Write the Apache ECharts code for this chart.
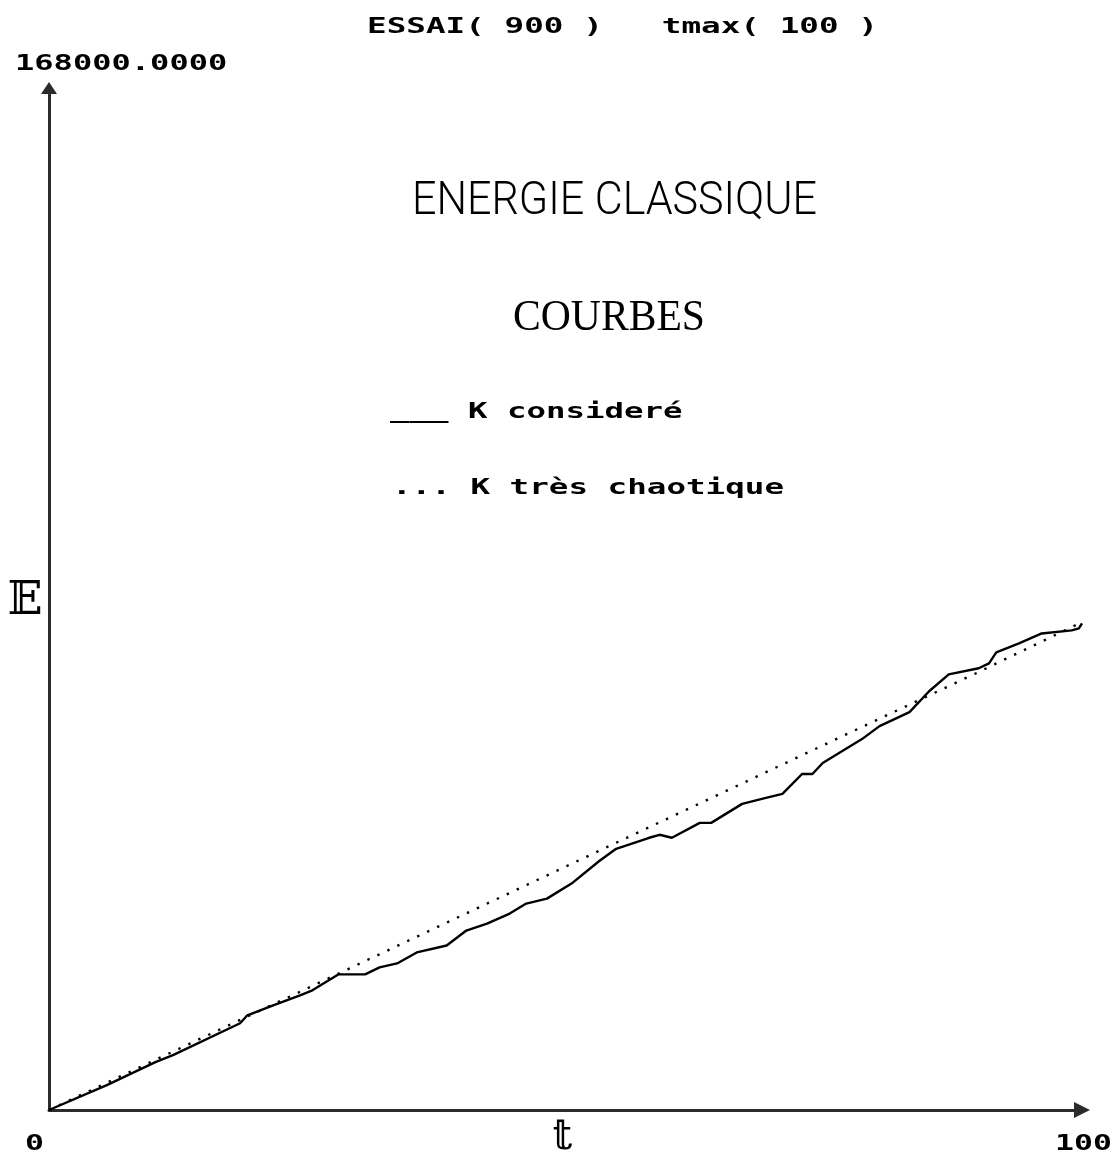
<!DOCTYPE html>
<html>
<head>
<meta charset="utf-8">
<title>ENERGIE CLASSIQUE</title>
<script src="https://cdn.jsdelivr.net/npm/echarts@6/dist/echarts.min.js"></script>
<style>
  html, body { margin: 0; padding: 0; background: #fff; }
  #chart { width: 1112px; height: 1157px; }
</style>
</head>
<body>
<div id="chart"></div>
<script>
// Time axis (t) and energy (E) of the simulated system
const tConsidere = [0, 5.6, 10.3, 12.0, 18.5, 19.2, 21.7, 24.3, 25.5, 28.0, 30.6, 32.0, 33.7, 35.6, 38.5, 40.4, 42.4, 44.6, 46.2, 48.2, 50.7, 53.3, 54.9, 58.1, 59.1, 60.3, 63.0, 64.1, 67.1, 69.4, 71.0, 72.9, 73.9, 74.9, 78.7, 80.4, 83.3, 85.2, 87.1, 90.0, 91.0, 91.7, 93.9, 96.1, 99.0, 99.7, 100];
const eConsidere = [0, 4100, 7870, 9020, 14260, 15570, 17210, 18850, 19670, 22290, 22290, 23440, 24090, 25900, 27040, 29500, 30650, 32290, 33930, 34750, 37370, 40980, 42940, 44750, 45240, 44750, 47200, 47200, 50320, 51300, 51960, 55230, 55230, 57040, 60970, 63100, 65400, 68840, 71620, 72610, 73430, 75230, 76710, 78340, 78840, 79160, 79980];

const tChaotique = [0, 10, 20, 30, 40, 50, 60, 70, 80, 90, 100];
const eChaotique = [0, 8000, 16000, 24000, 32000, 40000, 48000, 56000, 64000, 72000, 80200];

// Axis extents and their printed labels
const tRange = [0, 100];
const eRange = [0, 168000];
const tTickLabels = ['0', '100'];
const eTopLabel = '168000.0000';
const tAxisName = '\u{1D565}';   // double-struck t
const eAxisName = '\u{1D53C}';   // double-struck E

const headerText = 'ESSAI( 900 )   tmax( 100 )';
const titleText = 'ENERGIE CLASSIQUE';
const subtitleText = 'COURBES';
const legendSolid = '___ K consideré';
const legendDotted = '... K très chaotique';

const MONO = 'bold 22px "DejaVu Sans Mono"';
const measureCtx = document.createElement('canvas').getContext('2d');
function widthOf(text, font) {
  measureCtx.font = font;
  return measureCtx.measureText(text).width;
}
// Horizontal stretch so the monospace text advances a fixed pitch per character
function monoScale(pitch) { return pitch / widthOf('0', MONO); }
function fitScale(text, font, w) { return w / widthOf(text, font); }

function monoText(id, text, x, y, pitch) {
  return {
    type: 'text', id: id, x: x, y: y, scaleX: monoScale(pitch || 19),
    style: { text: text, font: MONO, fill: '#000', textAlign: 'left', textVerticalAlign: 'middle' }
  };
}

const chart = echarts.init(document.getElementById('chart'), null, { renderer: 'canvas' });

const axisLineStyle = { color: '#2b2b2b', width: 3 };

const TITLE_FONT = '300 46px Roboto, Inter, "DejaVu Sans"';
const SUB_FONT = '44px "Liberation Serif", "DejaVu Serif"';
const NAME_FONT_E = '46px "DejaVu Serif", "DejaVu Sans"';
const NAME_FONT_T = '42px "DejaVu Serif", "DejaVu Sans"';

chart.setOption({
  animation: false,
  backgroundColor: '#fff',
  grid: { left: 49, right: 30, top: 88, bottom: 47, containLabel: false, outerBoundsMode: 'none' },
  xAxis: {
    type: 'value', min: tRange[0], max: tRange[1],
    axisLine: { show: true, onZero: false, lineStyle: axisLineStyle, symbol: ['none', 'triangle'], symbolSize: [16, 16] },
    axisTick: { show: false }, axisLabel: { show: false }, splitLine: { show: false }
  },
  yAxis: {
    type: 'value', min: eRange[0], max: eRange[1],
    axisLine: { show: true, onZero: false, lineStyle: axisLineStyle, symbol: ['none', 'triangle'], symbolSize: [16, 12] },
    axisTick: { show: false }, axisLabel: { show: false }, splitLine: { show: false }
  },
  series: [
    {
      name: 'K très chaotique', type: 'line', showSymbol: false, z: 2,
      data: tChaotique.map((t, i) => [t, eChaotique[i]]),
      lineStyle: { color: '#000', width: 2.4, type: [2.4, 8.6], cap: 'butt' }
    },
    {
      name: 'K consideré', type: 'line', showSymbol: false, z: 3,
      data: tConsidere.map((t, i) => [t, eConsidere[i]]),
      lineStyle: { color: '#000', width: 2.4 }
    }
  ]
});

// Texts placed relative to the axes
const pOrigin = chart.convertToPixel({ gridIndex: 0 }, [tRange[0], eRange[0]]);
const pEnd = chart.convertToPixel({ gridIndex: 0 }, [tRange[1], eRange[0]]);
const pTop = chart.convertToPixel({ gridIndex: 0 }, [tRange[0], eRange[1]]);
const pMidT = chart.convertToPixel({ gridIndex: 0 }, [(tRange[0] + tRange[1]) / 2, eRange[0]]);

chart.setOption({
  graphic: [
    monoText('header', headerText, 367, 27, 19.65),
    monoText('eTop', eTopLabel, pTop[0] - 34, pTop[1] - 24, 19.3),
    monoText('t0', tTickLabels[0], pOrigin[0] - 24, pOrigin[1] + 34, 19),
    monoText('t100', tTickLabels[1], pEnd[0] - 27, pEnd[1] + 34, 19),
    monoText('legSolid', legendSolid, 390, 412, 19.5),
    monoText('legDotted', legendDotted, 392, 488, 19.6),
    {
      type: 'text', id: 'eName', x: 25, y: 602,
      style: { text: eAxisName, font: NAME_FONT_E, fill: '#000', textAlign: 'center', textVerticalAlign: 'middle' }
    },
    {
      type: 'text', id: 'tName', x: pMidT[0] - 3, y: pOrigin[1] + 28,
      style: { text: tAxisName, font: NAME_FONT_T, fill: '#000', textAlign: 'center', textVerticalAlign: 'middle' }
    },
    {
      type: 'text', id: 'title', x: 412, y: 202,
      scaleX: fitScale(titleText, TITLE_FONT, 405),
      style: { text: titleText, font: TITLE_FONT, fill: '#000', textAlign: 'left', textVerticalAlign: 'middle' }
    },
    {
      type: 'text', id: 'subtitle', x: 513, y: 318,
      scaleX: fitScale(subtitleText, SUB_FONT, 192),
      style: { text: subtitleText, font: SUB_FONT, fill: '#000', textAlign: 'left', textVerticalAlign: 'middle' }
    }
  ]
});
</script>
</body>
</html>
